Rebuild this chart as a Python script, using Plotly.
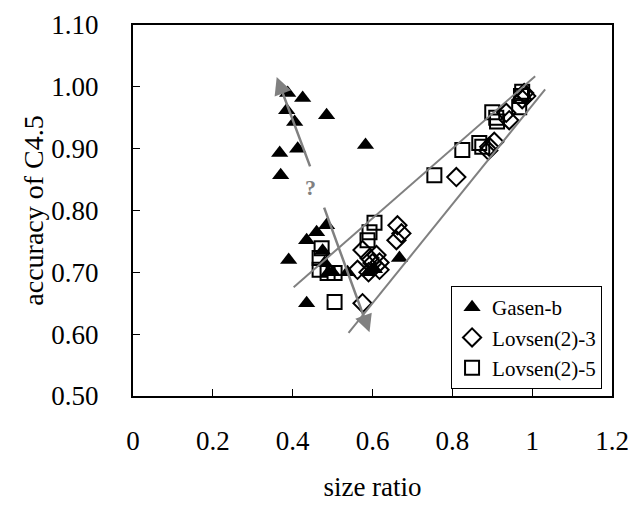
import plotly.graph_objects as go

gasen_x = [0.3875, 0.425, 0.385, 0.405, 0.485, 0.3675, 0.4125, 0.37, 0.5825, 0.39, 0.435, 0.46, 0.485,
           0.475, 0.48, 0.49, 0.50, 0.5375, 0.59, 0.605, 0.6675, 0.435]
gasen_y = [0.99, 0.982, 0.962, 0.943, 0.954, 0.893, 0.90, 0.857, 0.906, 0.72, 0.752, 0.765, 0.776,
           0.735, 0.715, 0.70, 0.70, 0.70, 0.70, 0.705, 0.723, 0.65]

lov3_x = [0.98, 0.985, 0.975, 0.935, 0.9425, 0.905, 0.8925, 0.89, 0.81, 0.6625, 0.6725, 0.66, 0.575,
          0.5925, 0.61, 0.6175, 0.6175, 0.59, 0.5625, 0.60, 0.575]
lov3_y = [0.99, 0.985, 0.98, 0.958, 0.946, 0.911, 0.903, 0.897, 0.854, 0.776, 0.763, 0.752, 0.736,
          0.723, 0.728, 0.716, 0.704, 0.70, 0.704, 0.715, 0.65]

lov5_x = [0.975, 0.972, 0.9675, 0.90, 0.91, 0.912, 0.8675, 0.875, 0.825, 0.755, 0.605, 0.5925, 0.5875,
          0.4725, 0.4675, 0.4675, 0.505, 0.4875, 0.505]
lov5_y = [0.992, 0.985, 0.967, 0.959, 0.95, 0.944, 0.909, 0.903, 0.898, 0.857, 0.78, 0.765, 0.752,
          0.739, 0.723, 0.704, 0.699, 0.699, 0.652]

x_ticks = [0, 0.2, 0.4, 0.6, 0.8, 1.0, 1.2]
x_labels = ["0", "0.2", "0.4", "0.6", "0.8", "1", "1.2"]
y_ticks = [0.5, 0.6, 0.7, 0.8, 0.9, 1.0, 1.1]
y_labels = ["0.50", "0.60", "0.70", "0.80", "0.90", "1.00", "1.10"]

# guide lines (data coords)
wedge_lines = [((0.4025, 0.676), (1.0075, 1.017)), ((0.54, 0.602), (1.0325, 0.996))]
arrows = [((0.445, 0.869), (0.36, 1.016)), ((0.4775, 0.807), (0.5925, 0.603))]
qmark = (0.445, 0.838)

FONT = "Liberation Serif"
GRAY = "#808080"

fig = go.Figure()
fig.add_trace(go.Scatter(x=gasen_x, y=gasen_y, mode="markers", name="Gasen-b",
                         marker=dict(symbol="triangle-up", size=15, color="black",
                                     line=dict(width=0))))
fig.add_trace(go.Scatter(x=lov3_x, y=lov3_y, mode="markers", name="Lovsen(2)-3",
                         marker=dict(symbol="diamond-open", size=14, color="black",
                                     line=dict(width=2, color="black"))))
fig.add_trace(go.Scatter(x=lov5_x, y=lov5_y, mode="markers", name="Lovsen(2)-5",
                         marker=dict(symbol="square-open", size=14, color="black",
                                     line=dict(width=2, color="black"))))

for (x0, y0), (x1, y1) in wedge_lines:
    fig.add_shape(type="line", x0=x0, y0=y0, x1=x1, y1=y1, xref="x", yref="y",
                  line=dict(color=GRAY, width=2), layer="above")

for (x0, y0), (x1, y1) in arrows:
    fig.add_annotation(x=x1, y=y1, ax=x0, ay=y0, xref="x", yref="y", axref="x", ayref="y",
                       showarrow=True, arrowhead=2, arrowsize=1.4, arrowwidth=2.5,
                       arrowcolor=GRAY, text="")

fig.add_annotation(x=qmark[0], y=qmark[1], xref="x", yref="y", text="<b>?</b>", showarrow=False,
                   font=dict(family=FONT, size=22, color=GRAY))

fig.update_layout(
    width=632, height=524,
    margin=dict(l=133, r=20, t=25, b=128),
    paper_bgcolor="white", plot_bgcolor="white",
    font=dict(family=FONT, size=27, color="black"),
    showlegend=True,
    legend=dict(x=0.664, y=0.2965, xanchor="left", yanchor="top",
                bgcolor="white", bordercolor="black", borderwidth=1,
                font=dict(family=FONT, size=21, color="black"),
                itemwidth=30, tracegroupgap=0),
    xaxis=dict(range=[0, 1.2], tickvals=x_ticks, ticktext=x_labels, automargin=False,
               showgrid=False, zeroline=False, showline=True, linecolor="black", linewidth=2,
               mirror=True, ticks="inside", ticklen=7, tickcolor="black", tickwidth=1,
               ticklabelstandoff=20, tickfont=dict(family=FONT, size=27),
               title=dict(text="size ratio", standoff=22, font=dict(family=FONT, size=27))),
    yaxis=dict(range=[0.5, 1.1], tickvals=y_ticks, ticktext=y_labels, automargin=False,
               showgrid=False, zeroline=False, showline=True, linecolor="black", linewidth=2,
               mirror=True, ticks="inside", ticklen=7, tickcolor="black", tickwidth=1,
               ticklabelstandoff=27, tickfont=dict(family=FONT, size=27),
               title=dict(text="accuracy of C4.5", standoff=0, font=dict(family=FONT, size=28))),
)

fig.write_html("out.html", config={"displayModeBar": False},
               post_script="document.body.style.margin='0';document.body.style.overflow='hidden';")
